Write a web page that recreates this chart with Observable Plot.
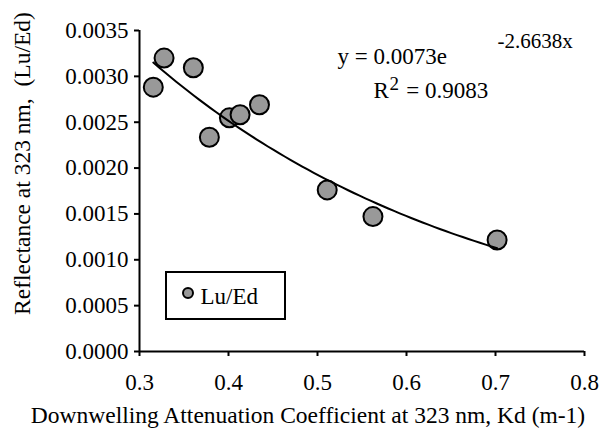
<!DOCTYPE html>
<html>
<head>
<meta charset="utf-8">
<script src="https://cdn.jsdelivr.net/npm/d3@7"></script>
<script src="https://cdn.jsdelivr.net/npm/@observablehq/plot@0.6"></script>
<style>
  html, body { margin: 0; padding: 0; background: #fff; }
  #chart { position: relative; width: 605px; height: 432px; }
</style>
</head>
<body>
<div id="chart"></div>
<script>
// Data
const kd = [0.3155, 0.3276, 0.3605, 0.3785, 0.4010, 0.4130, 0.4348, 0.5109, 0.5623, 0.7018];
const reflectance = [0.002882, 0.003199, 0.003094, 0.002336, 0.002548, 0.002581, 0.002690, 0.001762, 0.001471, 0.001216];
const xTicks = [0.3, 0.4, 0.5, 0.6, 0.7, 0.8];
const yTicks = [0, 0.0005, 0.0010, 0.0015, 0.0020, 0.0025, 0.0030, 0.0035];
// Exponential trendline coefficients shown on the chart: y = a * e^(b x)
const trendA = [0.0073];
const trendB = [-2.6638];
const equationText = ["y = 0.0073e", "-2.6638x"];
const r2Text = ["R", "2", " = 0.9083"];
const seriesName = ["Lu/Ed"];

const points = kd.map((x, i) => ({x, y: reflectance[i]}));
const [x0, x1] = d3.extent(kd);
const trend = d3.range(0, 61).map(i => {
  const x = x0 + (x1 - x0) * i / 60;
  return {x, y: trendA[0] * Math.exp(trendB[0] * x)};
});

const W = 605, H = 432;
const mL = 139, mT = 30, mR = 21, mB = 81;
const fs = 23;
const ff = "Liberation Serif";

const plot = Plot.plot({
  width: W,
  height: H,
  marginLeft: mL,
  marginTop: mT,
  marginRight: mR,
  marginBottom: mB,
  style: {fontSize: fs + "px", fontFamily: ff, background: "#fff", color: "#000"},
  x: {domain: [0.3, 0.8]},
  y: {domain: [0, 0.0035]},
  marks: [
    Plot.axisY({ticks: yTicks, tickFormat: d3.format(".4f"), tickSize: 5, tickPadding: 6, strokeWidth: 2, label: null, fontSize: fs, fontFamily: ff}),
    Plot.axisX({ticks: xTicks, tickFormat: d3.format(".1f"), tickSize: 5, tickPadding: 17, strokeWidth: 2, label: null, fontSize: fs, fontFamily: ff}),
    Plot.ruleX([0.3], {stroke: "#000", strokeWidth: 2}),
    Plot.ruleY([0], {stroke: "#000", strokeWidth: 2}),
    Plot.dot(points, {x: "x", y: "y", r: 9.5, fill: "#999999", stroke: "#000", strokeWidth: 2}),
    Plot.line(trend, {x: "x", y: "y", stroke: "#000", strokeWidth: 2, curve: "linear"}),
    // axis titles
    Plot.text(["Downwelling Attenuation Coefficient at 323 nm, Kd (m-1)"], {
      frameAnchor: "bottom", dx: 307.5 - (mL + (W - mL - mR) / 2), dy: 64, lineAnchor: "middle", fontSize: 23.5, fontFamily: ff, fill: "#000"
    }),
    Plot.text(["Reflectance at 323 nm,\u00a0 (Lu/Ed)"], {
      frameAnchor: "left", rotate: -90, dx: 22 - mL, dy: 163 - (mT + (H - mT - mB) / 2), lineAnchor: "middle", textAnchor: "middle", fontSize: 23.5, fontFamily: ff, fill: "#000"
    }),
    // trendline equation
    Plot.text([equationText[0]], {frameAnchor: "top-left", dx: 337 - mL, dy: 63 - mT, textAnchor: "start", lineAnchor: "bottom", fontSize: fs, fontFamily: ff, fill: "#000"}),
    Plot.text([equationText[1]], {frameAnchor: "top-left", dx: 497 - mL, dy: 47 - mT, textAnchor: "start", lineAnchor: "bottom", fontSize: 21, fontFamily: ff, fill: "#000"}),
    Plot.text([r2Text[0]], {frameAnchor: "top-left", dx: 373 - mL, dy: 97 - mT, textAnchor: "start", lineAnchor: "bottom", fontSize: fs, fontFamily: ff, fill: "#000"}),
    Plot.text([r2Text[1]], {frameAnchor: "top-left", dx: 389 - mL, dy: 89 - mT, textAnchor: "start", lineAnchor: "bottom", fontSize: 19, fontFamily: ff, fill: "#000"}),
    Plot.text([r2Text[2]], {frameAnchor: "top-left", dx: 400 - mL, dy: 97 - mT, textAnchor: "start", lineAnchor: "bottom", fontSize: fs, fontFamily: ff, fill: "#000"}),
    // legend
    Plot.text([seriesName[0]], {frameAnchor: "top-left", dx: 200 - mL, dy: 303 - mT, textAnchor: "start", lineAnchor: "bottom", fontSize: fs, fontFamily: ff, fill: "#000"})
  ]
});

const svg = d3.select(plot);
svg.selectAll("text").attr("font-family", ff);

// white background, legend box and marker
svg.insert("rect", ":first-child")
  .attr("x", 0).attr("y", 0).attr("width", W).attr("height", H).attr("fill", "#fff");
const lg = svg.append("g");
lg.append("rect").attr("x", 166).attr("y", 272).attr("width", 119).attr("height", 47)
  .attr("fill", "none").attr("stroke", "#000").attr("stroke-width", 2);
lg.append("circle").attr("cx", 188).attr("cy", 293).attr("r", 5)
  .attr("fill", "#999999").attr("stroke", "#000").attr("stroke-width", 2);

document.getElementById("chart").append(plot);
</script>
</body>
</html>
